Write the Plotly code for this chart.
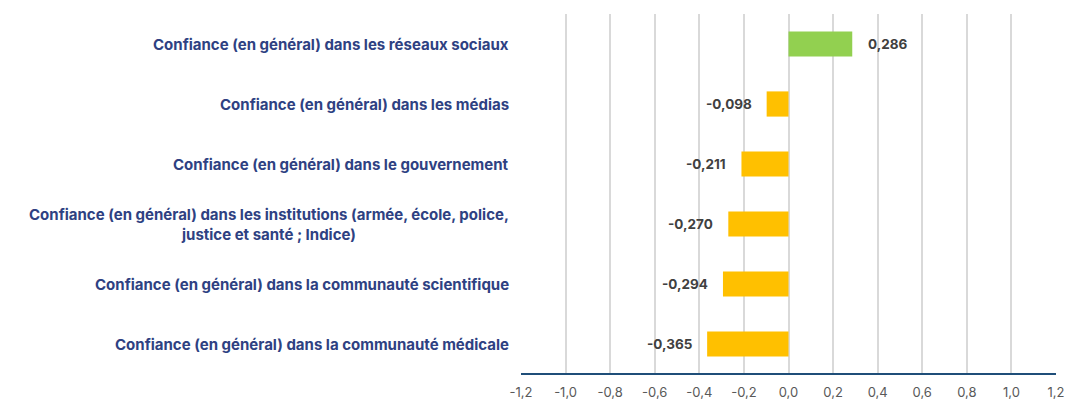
import plotly.graph_objects as go

categories = [
    "Confiance (en général) dans les réseaux sociaux",
    "Confiance (en général) dans les médias",
    "Confiance (en général) dans le gouvernement",
    "Confiance (en général) dans les institutions (armée, école, police,<br>justice et santé ; Indice)",
    "Confiance (en général) dans la communauté scientifique",
    "Confiance (en général) dans la communauté médicale",
]
values = [0.286, -0.098, -0.211, -0.270, -0.294, -0.365]
value_labels = ["0,286", "-0,098", "-0,211", "-0,270", "-0,294", "-0,365"]
tick_vals = [-1.2, -1.0, -0.8, -0.6, -0.4, -0.2, 0.0, 0.2, 0.4, 0.6, 0.8, 1.0, 1.2]
tick_text = ["-1,2", "-1,0", "-0,8", "-0,6", "-0,4", "-0,2", "0,0",
             "0,2", "0,4", "0,6", "0,8", "1,0", "1,2"]

font_name = "Inter"
colors = ["#92D050" if v >= 0 else "#FFC000" for v in values]

fig = go.Figure()

fig.add_trace(
    go.Bar(
        x=values,
        y=list(range(len(categories))),
        orientation="h",
        marker=dict(color=colors, line=dict(width=0)),
        width=0.42,
        hoverinfo="skip",
    )
)

# étiquettes de valeurs
for i, (v, lab) in enumerate(zip(values, value_labels)):
    fig.add_annotation(
        x=v, y=i, xref="x", yref="y",
        text="<b>" + lab + "</b>",
        showarrow=False,
        xanchor="left" if v >= 0 else "right",
        xshift=14 if v >= 0 else -13,
        font=dict(family=font_name, size=13.5, color="#404040"),
    )

# libellés des catégories
for i, cat in enumerate(categories):
    fig.add_annotation(
        x=0, y=i, xref="paper", yref="y",
        text="<b>" + cat + "</b>",
        showarrow=False,
        xanchor="right",
        xshift=-10,
        align="center",
        font=dict(family=font_name, size=15, color="#2E4182"),
    )

fig.update_layout(
    width=1068,
    height=401,
    margin=dict(l=521, r=12, t=14, b=27),
    plot_bgcolor="white",
    paper_bgcolor="white",
    showlegend=False,
)

fig.update_xaxes(
    range=[-1.2, 1.2],
    tickvals=tick_vals,
    ticktext=tick_text,
    automargin=False,
    ticklabelstandoff=9,
    showgrid=True,
    gridcolor="#D9D9D9",
    gridwidth=1.5,
    zeroline=False,
    showline=False,
    tickfont=dict(family=font_name, size=13, color="#595959"),
    ticks="",
)

fig.update_yaxes(
    range=[len(categories) - 0.5, -0.5],
    showticklabels=False,
    showgrid=False,
    zeroline=False,
    showline=False,
)

# ligne de base en bas
fig.add_shape(
    type="line", xref="paper", yref="paper",
    x0=0, x1=1, y0=0, y1=0,
    line=dict(color="#1F4E79", width=2),
)

fig.write_html(
    "out.html",
    config={"displayModeBar": False},
    post_script="document.body.style.margin='0';",
)
